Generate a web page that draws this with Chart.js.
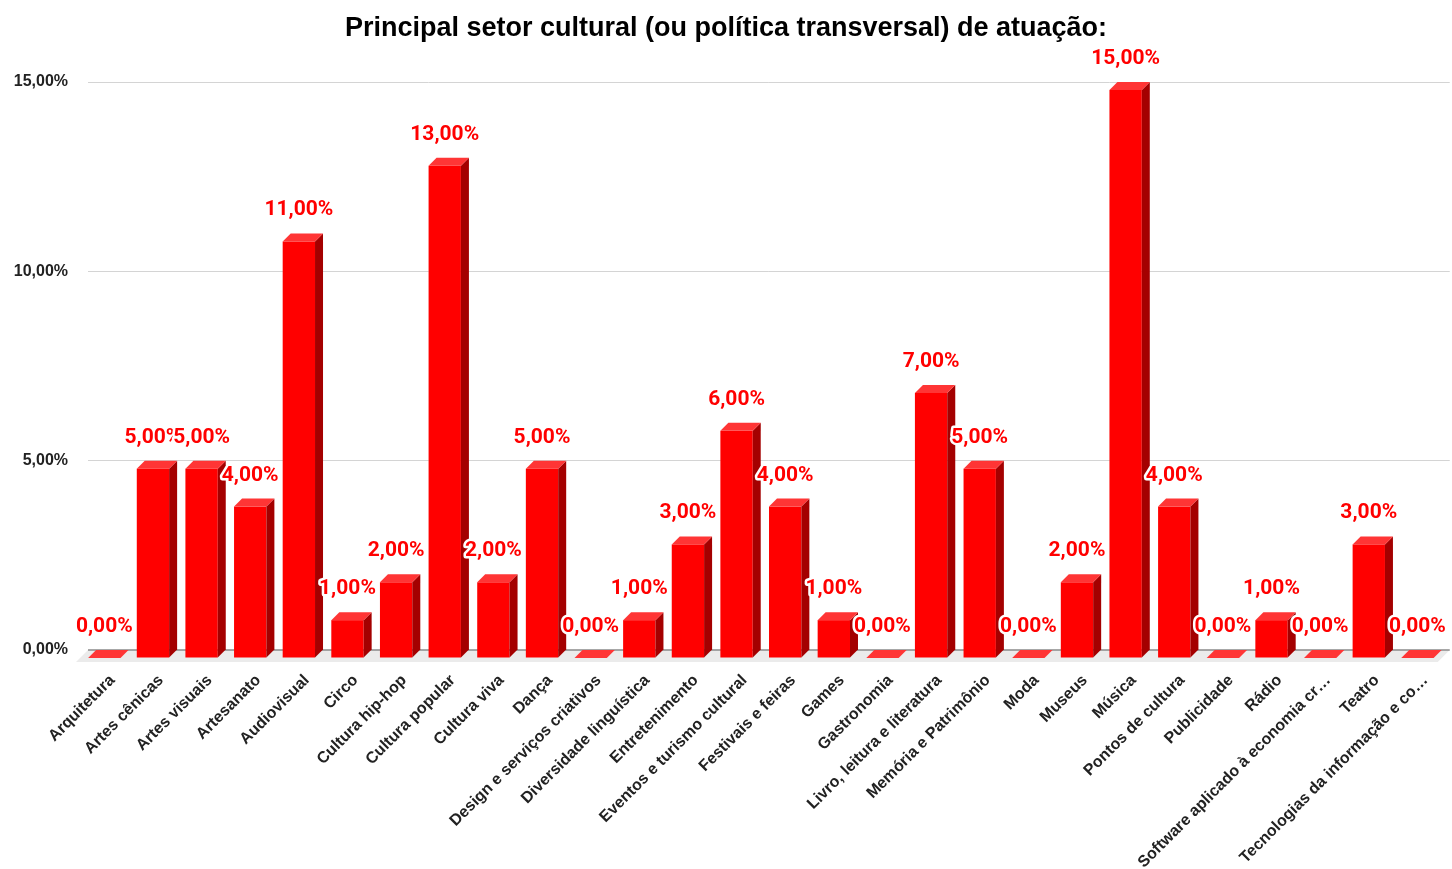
<!DOCTYPE html>
<html>
<head>
<meta charset="utf-8">
<script src="https://cdn.jsdelivr.net/npm/chart.js@4"></script>
<style>
  html, body { margin: 0; padding: 0; background: #fff; }
  #wrap { width: 1452px; height: 869px; position: relative; }
</style>
</head>
<body>
<div id="wrap"><canvas id="chart"></canvas></div>
<script>
const setores = [
    "Arquitetura", "Artes cênicas", "Artes visuais", "Artesanato", "Audiovisual",
    "Circo", "Cultura hip-hop", "Cultura popular", "Cultura viva", "Dança",
    "Design e serviços criativos", "Diversidade linguística", "Entretenimento",
    "Eventos e turismo cultural", "Festivais e feiras", "Games", "Gastronomia",
    "Livro, leitura e literatura", "Memória e Patrimônio", "Moda", "Museus",
    "Música", "Pontos de cultura", "Publicidade", "Rádio",
    "Software aplicado à economia cr…", "Teatro", "Tecnologias da informação e co…"
]
const percentuais = [
    0, 5, 5, 4, 11,
    1, 2, 13, 2, 5,
    0, 1, 3,
    6, 4, 1, 0,
    7, 5, 0, 2,
    15, 4, 0, 1,
    0, 3, 0
]
const yTicks = [0, 5, 10, 15]

const fmt = v => v.toFixed(2).replace(".", ",") + "%"

// depth of the fake 3D extrusion, in pixels
const DEPTH = 8

const bars3d = {
    id: "bars3d",
    beforeDatasetsDraw(chart) {
        const { ctx, chartArea } = chart
        const base = chart.scales.y.getPixelForValue(0)
        // grey floor under the bars
        ctx.save()
        ctx.fillStyle = "#ebebeb"
        ctx.beginPath()
        ctx.moveTo(chartArea.left, base)
        ctx.lineTo(chartArea.right, base)
        ctx.lineTo(chartArea.right - 12, base + 12)
        ctx.lineTo(chartArea.left - 12, base + 12)
        ctx.closePath()
        ctx.fill()
        ctx.strokeStyle = "#8a8a8a"
        ctx.lineWidth = 1.5
        ctx.beginPath()
        ctx.moveTo(chartArea.left, base)
        ctx.lineTo(chartArea.right, base)
        ctx.stroke()
        ctx.restore()
    },
    afterDatasetsDraw(chart) {
        const { ctx } = chart
        const meta = chart.getDatasetMeta(0)
        const d = DEPTH
        ctx.save()
        meta.data.forEach(el => {
            const w = el.width
            const x0 = el.x - w / 2 - d
            const x1 = el.x + w / 2 - d
            const top = el.y + d
            const bottom = el.base + d
            // front face
            if (bottom - top > 0.5) {
                ctx.fillStyle = "#ff0000"
                ctx.fillRect(x0, top, x1 - x0, bottom - top)
                // side face
                ctx.fillStyle = "#a40000"
                ctx.beginPath()
                ctx.moveTo(x1, top)
                ctx.lineTo(x1 + d, el.y)
                ctx.lineTo(x1 + d, el.base)
                ctx.lineTo(x1, bottom)
                ctx.closePath()
                ctx.fill()
            }
            // top face
            ctx.fillStyle = "#ff3535"
            ctx.beginPath()
            ctx.moveTo(x0, top)
            ctx.lineTo(x0 + d, el.y)
            ctx.lineTo(x1 + d, el.y)
            ctx.lineTo(x1, top)
            ctx.closePath()
            ctx.fill()
        })

        // value labels, red with a white halo
        ctx.font = "bold 21px Roboto"
        ctx.textAlign = "center"
        ctx.textBaseline = "alphabetic"
        ctx.lineJoin = "round"
        meta.data.forEach((el, i) => {
            const txt = fmt(percentuais[i])
            const tx = el.x - d
            const ty = el.y - 18
            ctx.strokeStyle = "#ffffff"
            ctx.lineWidth = 5
            ctx.strokeText(txt, tx, ty)
            ctx.fillStyle = "#ff0000"
            ctx.fillText(txt, tx, ty)
        })
        ctx.restore()
    }
}

new Chart(document.getElementById("chart"), {
    type: "bar",
    data: {
        labels: setores,
        datasets: [{
            data: percentuais,
            backgroundColor: "rgba(0,0,0,0)",
            borderWidth: 0,
            barPercentage: 1,
            categoryPercentage: 0.665
        }]
    },
    options: {
        responsive: true,
        maintainAspectRatio: false,
        animation: false,
        layout: { padding: 0 },
        plugins: {
            legend: { display: false },
            tooltip: { enabled: false },
            title: {
                display: true,
                text: "Principal setor cultural (ou política transversal) de atuação:",
                color: "#000",
                font: { family: "'Liberation Sans', Arial", size: 27, weight: "bold" },
                padding: { top: 12, bottom: 37.6 }
            }
        },
        scales: {
            x: {
                grid: { display: false },
                border: { display: false },
                afterFit: s => { s.height = 219 },
                ticks: {
                    autoSkip: false,
                    minRotation: 45,
                    maxRotation: 45,
                    padding: 13,
                    color: "#222",
                    font: { family: "'Liberation Sans', Arial", size: 16, weight: "bold" }
                }
            },
            y: {
                min: 0,
                max: 15,
                afterFit: s => { s.width = 88 },
                afterBuildTicks: s => { s.ticks = yTicks.map(v => ({ value: v })) },
                border: { display: false },
                grid: {
                    drawTicks: false,
                    color: c => c.tick.value === 0 ? "rgba(0,0,0,0)" : "#d4d4d4",
                    lineWidth: 1
                },
                ticks: {
                    padding: 20,
                    color: "#222",
                    font: { family: "'Liberation Sans', Arial", size: 16, weight: "bold" },
                    callback: v => fmt(v)
                }
            }
        }
    },
    plugins: [bars3d]
})
</script>
</body>
</html>
